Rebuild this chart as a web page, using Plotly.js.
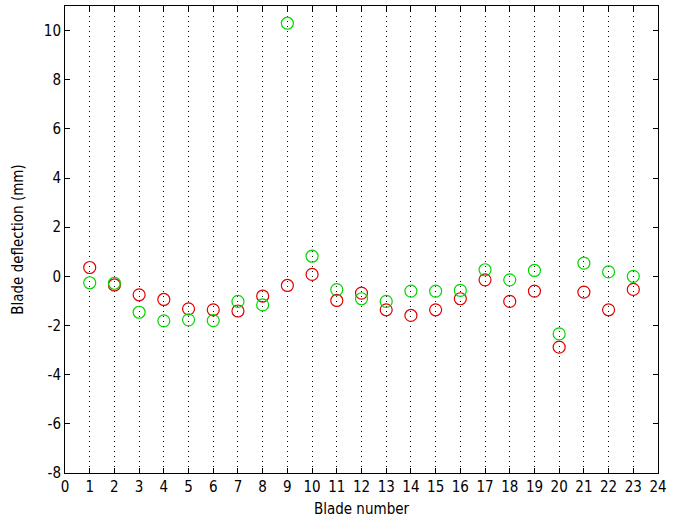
<!DOCTYPE html>
<html>
<head>
<meta charset="utf-8">
<script src="https://cdn.plot.ly/plotly-3.0.1.min.js"></script>
<style>
  html, body { margin: 0; padding: 0; background: #fff; }
  #chart { width: 682px; height: 523px; }
</style>
</head>
<body>
<div id="chart"></div>
<script>
// Blade numbers and measured deflections (mm) for two runs
const blades = [1, 2, 3, 4, 5, 6, 7, 8, 9, 10, 11, 12, 13, 14, 15, 16, 17, 18, 19, 20, 21, 22, 23];
const redDeflection = [0.36, -0.35, -0.75, -0.94, -1.32, -1.36, -1.41, -0.80, -0.37, 0.08, -0.98, -0.68, -1.36, -1.59, -1.36, -0.91, -0.14, -1.02, -0.60, -2.88, -0.64, -1.36, -0.53];
const greenDeflection = [-0.26, -0.28, -1.46, -1.81, -1.77, -1.80, -1.02, -1.16, 10.30, 0.82, -0.54, -0.91, -1.02, -0.60, -0.60, -0.57, 0.27, -0.14, 0.24, -2.34, 0.54, 0.18, 0.00];
const xTicks = [0, 1, 2, 3, 4, 5, 6, 7, 8, 9, 10, 11, 12, 13, 14, 15, 16, 17, 18, 19, 20, 21, 22, 23, 24];
const yTicks = [-8, -6, -4, -2, 0, 2, 4, 6, 8, 10];

const markerStyle = (color) => ({
  symbol: 'circle-open',
  size: 12,
  color: color,
  line: { color: color, width: 1.2 }
});

const traces = [
  {
    x: blades, y: redDeflection, type: 'scatter', mode: 'markers',
    marker: markerStyle('rgb(225,0,0)'), showlegend: false, hoverinfo: 'x+y'
  },
  {
    x: blades, y: greenDeflection, type: 'scatter', mode: 'markers',
    marker: markerStyle('rgb(0,215,0)'), showlegend: false, hoverinfo: 'x+y'
  }
];

const font = { family: 'DejaVu Sans Condensed, Liberation Sans, sans-serif', size: 15, color: '#000' };

const layout = {
  width: 682, height: 523,
  margin: { l: 65, r: 24, t: 6, b: 50 },
  paper_bgcolor: '#fff',
  plot_bgcolor: '#fff',
  font: font,
  xaxis: {
    range: [0, 24],
    tickvals: xTicks,
    ticktext: xTicks.map(String),
    ticks: 'inside', ticklen: 5, tickcolor: '#000',
    showline: true, linecolor: '#000', linewidth: 1, mirror: 'ticks',
    showgrid: true, gridcolor: '#000', gridwidth: 1, griddash: '1px,4px',
    zeroline: false,
    title: { text: 'Blade number', font: font, standoff: 8 },
    tickfont: font
  },
  yaxis: {
    range: [-8, 11],
    tickvals: yTicks,
    ticktext: yTicks.map(String),
    ticks: 'inside', ticklen: 5, tickcolor: '#000',
    showline: true, linecolor: '#000', linewidth: 1, mirror: 'ticks',
    showgrid: false, zeroline: false,
    title: { text: 'Blade deflection (mm)', font: font, standoff: 16 },
    tickfont: font
  }
};

Plotly.newPlot('chart', traces, layout, { displayModeBar: false, staticPlot: true });
</script>
</body>
</html>
